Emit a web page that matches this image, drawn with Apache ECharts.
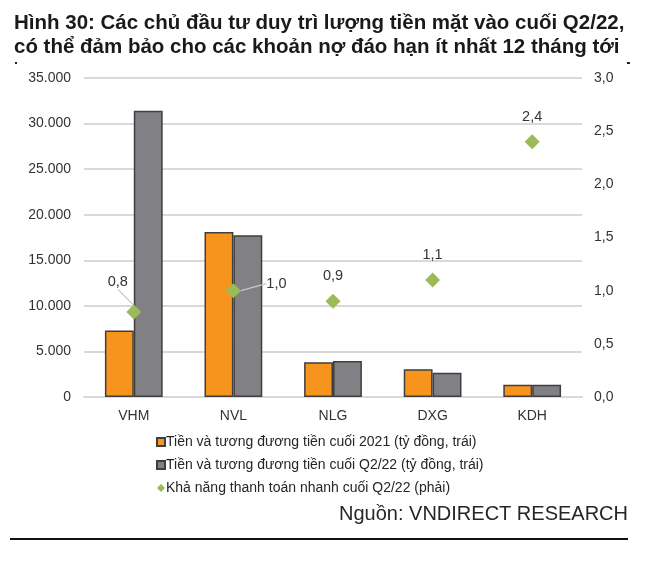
<!DOCTYPE html>
<html>
<head>
<meta charset="utf-8">
<script src="https://cdn.jsdelivr.net/npm/echarts@6/dist/echarts.min.js"></script>
<style>
    html, body { margin: 0; padding: 0; background: #fff; }
    #chart { width: 666px; height: 566px; }
</style>
</head>
<body>
<div id="chart"></div>
<script>
// Hinh 30 - tien mat cua cac chu dau tu
var categories = ['VHM', 'NVL', 'NLG', 'DXG', 'KDH'];
var cash2021 = [7300, 18100, 3800, 3050, 1350];
var cashQ222 = [31400, 17750, 3950, 2650, 1350];
var quickRatio = [0.8, 1.0, 0.9, 1.1, 2.4];
var seriesNames = [
    'Tiền và tương đương tiền cuối 2021 (tỷ đồng, trái)',
    'Tiền và tương đương tiền cuối Q2/22 (tỷ đồng, trái)',
    'Khả năng thanh toán nhanh cuối Q2/22 (phải)'
];

var FONT = '"Liberation Sans", Arial, sans-serif';
var TXT = '#333333';

function vn(n, d) {
    // 35000 -> 35.000 ; 0.5 -> 0,5
    var s = n.toFixed(d);
    var parts = s.split('.');
    parts[0] = parts[0].replace(/\B(?=(\d{3})+(?!\d))/g, '.');
    return parts.length > 1 ? parts[0] + ',' + parts[1] : parts[0];
}

var echartElem = document.getElementById('chart');
if (echartElem) {
    var chart = echarts.init(echartElem);
    chart.setOption({
        animation: false,
        textStyle: { fontFamily: FONT },
        title: {
            text: 'Hình 30: Các chủ đầu tư duy trì lượng tiền mặt vào cuối Q2/22,\ncó thể đảm bảo cho các khoản nợ đáo hạn ít nhất 12 tháng tới',
            left: 14,
            top: 11,
            padding: 0,
            textStyle: {
                fontFamily: FONT,
                fontSize: 20.5,
                fontWeight: 'bold',
                color: '#1a1a1a',
                lineHeight: 24
            }
        },
        legend: {
            orient: 'vertical',
            left: 151,
            top: 429,
            itemWidth: 8,
            itemHeight: 8,
            itemGap: 7,
            textStyle: { fontSize: 14, color: '#262626', padding: [0, 0, 0, -4], lineHeight: 16 },
            data: [
                { name: seriesNames[0], icon: 'rect' },
                { name: seriesNames[1], icon: 'rect' },
                { name: seriesNames[2], icon: 'diamond' }
            ]
        },
        grid: {
            left: 84,
            right: 84,
            top: 78,
            bottom: 169
        },
        xAxis: [{
            type: 'category',
            data: categories,
            axisTick: { show: false },
            axisLine: { show: true, lineStyle: { color: '#d9d9d9', width: 2 } },
            axisLabel: { fontSize: 14, color: TXT, margin: 12 },
            splitLine: { show: false }
        }],
        yAxis: [{
            type: 'value',
            min: 0,
            max: 35000,
            interval: 5000,
            axisLine: { show: false },
            axisTick: { show: false },
            axisLabel: {
                fontSize: 14,
                color: TXT,
                margin: 13,
                formatter: function (v) { return vn(v, 0); }
            },
            splitLine: { show: true, lineStyle: { color: '#d9d9d9', width: 2 } }
        }, {
            type: 'value',
            min: 0,
            max: 3,
            interval: 0.5,
            axisLine: { show: false },
            axisTick: { show: false },
            axisLabel: {
                fontSize: 14,
                color: TXT,
                margin: 12,
                formatter: function (v) { return vn(v, 1); }
            },
            splitLine: { show: false }
        }],
        series: [{
            name: seriesNames[0],
            type: 'bar',
            data: cash2021,
            barGap: 0,
            barCategoryGap: '42%',
            color: '#F7941D',
            itemStyle: { color: '#F7941D', borderColor: '#3f3f3f', borderWidth: 1.5 }
        }, {
            name: seriesNames[1],
            type: 'bar',
            data: cashQ222,
            color: '#808085',
            itemStyle: { color: '#808085', borderColor: '#3f3f3f', borderWidth: 1.5 }
        }, {
            name: seriesNames[2],
            type: 'scatter',
            yAxisIndex: 1,
            symbol: 'diamond',
            symbolSize: 15,
            color: '#9BBB59',
            itemStyle: { color: '#9BBB59', opacity: 1 },
            z: 5,
            data: quickRatio.map(function (v, i) {
                return { value: v, labelLine: { show: i < 2, smooth: i === 1 } };
            }),
            label: {
                show: true,
                position: 'top',
                distance: 10,
                fontSize: 14.5,
                color: TXT,
                formatter: function (p) { return vn(p.value, 1); }
            },
            labelLine: {
                lineStyle: { color: '#c8c8c8', width: 1.2 }
            },
            labelLayout: function (p) {
                if (p.dataIndex === 0) return { dx: -16, dy: -5 };
                if (p.dataIndex === 1) return { dx: 43, dy: 18 };
                return {};
            }
        }],
        graphic: [{
            type: 'text',
            right: 38,
            top: 504,
            style: {
                text: 'Nguồn: VNDIRECT RESEARCH',
                fontFamily: FONT,
                fontSize: 20,
                fill: '#262626'
            }
        }, {
            type: 'rect',
            shape: { x: 10, y: 538, width: 618, height: 2 },
            style: { fill: '#111' }
        }, {
            type: 'rect',
            shape: { x: 15, y: 62, width: 2, height: 2 },
            style: { fill: '#222' }
        }, {
            type: 'rect',
            shape: { x: 627, y: 62, width: 3, height: 2 },
            style: { fill: '#222' }
        }]
    });
}
</script>
</body>
</html>
